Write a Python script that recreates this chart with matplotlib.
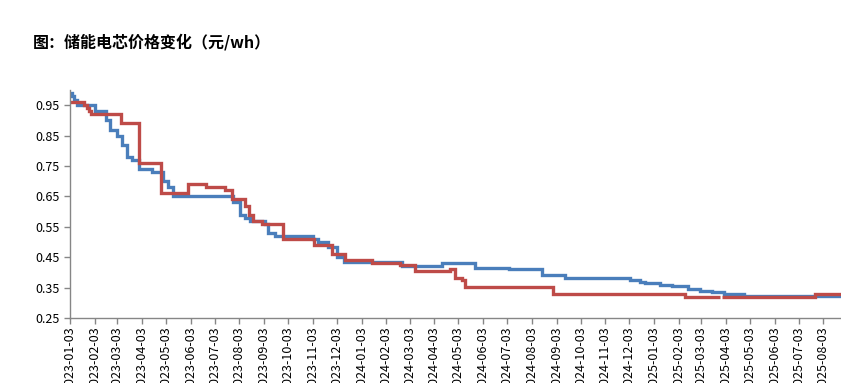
import numpy as np
import pandas as pd
import matplotlib
matplotlib.use("Agg")
import matplotlib.pyplot as plt
import matplotlib.dates as mdates

plt.rcParams['font.family'] = ['Noto Sans CJK SC', 'DejaVu Sans']

title = "图：储能电芯价格变化（元/wh）"

blue_dates = ["2023-01-03", "2023-01-05", "2023-01-08", "2023-01-12", "2023-02-03", "2023-02-17",
              "2023-02-22", "2023-03-03", "2023-03-09", "2023-03-15", "2023-03-22", "2023-03-30",
              "2023-04-16", "2023-04-29", "2023-05-06", "2023-05-12", "2023-07-26", "2023-08-04",
              "2023-08-10", "2023-08-16", "2023-09-04", "2023-09-08", "2023-09-17", "2023-11-03",
              "2023-11-10", "2023-11-22", "2023-12-03", "2023-12-12", "2024-02-22", "2024-04-13",
              "2024-05-24", "2024-07-05", "2024-08-16", "2024-09-13", "2024-12-04", "2024-12-17",
              "2024-12-23", "2025-01-11", "2025-01-26", "2025-02-15", "2025-03-02", "2025-03-17",
              "2025-03-31", "2025-04-25", "2025-08-25"]
blue_values = [0.99, 0.98, 0.968, 0.95, 0.93, 0.90,
               0.87, 0.85, 0.82, 0.78, 0.77, 0.74,
               0.73, 0.70, 0.68, 0.65, 0.63, 0.59,
               0.58, 0.57, 0.56, 0.53, 0.52, 0.51,
               0.50, 0.485, 0.45, 0.433, 0.42, 0.43,
               0.415, 0.41, 0.39, 0.38, 0.376, 0.37,
               0.365, 0.36, 0.355, 0.345, 0.34, 0.335,
               0.33, 0.322, 0.321]

red_dates = ["2023-01-03", "2023-01-20", "2023-01-24", "2023-01-27", "2023-01-29", "2023-03-08",
             "2023-03-30", "2023-04-27", "2023-05-31", "2023-06-22", "2023-07-16", "2023-07-25",
             "2023-08-10", "2023-08-15", "2023-08-20", "2023-08-31", "2023-09-27", "2023-11-05",
             "2023-11-27", "2023-12-13", "2024-01-16", "2024-02-20", "2024-03-10", "2024-04-23",
             "2024-04-29", "2024-05-08", "2024-05-12", "2024-08-29", "2025-02-11", "2025-03-26",
             "2025-03-29", "2025-07-24", "2025-08-25"]
red_values = [0.96, 0.95, 0.94, 0.93, 0.92, 0.89,
              0.76, 0.66, 0.69, 0.68, 0.67, 0.64,
              0.62, 0.59, 0.57, 0.56, 0.51, 0.49,
              0.46, 0.44, 0.43, 0.423, 0.405, 0.41,
              0.38, 0.375, 0.352, 0.33, 0.32, np.nan,
              0.32, 0.33, 0.33]

tick_dates = pd.date_range("2023-01-03", "2025-08-03", freq=pd.DateOffset(months=1))
y_ticks = [0.25, 0.35, 0.45, 0.55, 0.65, 0.75, 0.85, 0.95]

fig = plt.figure(figsize=(8.41, 3.83), dpi=100)
ax = fig.add_axes([70 / 841, 65 / 383, 1 - 70 / 841, (318 - 90) / 383])

ax.step(pd.to_datetime(blue_dates), blue_values, where='post', color='#4A7EBB', lw=2.4,
        solid_joinstyle='miter', solid_capstyle='butt')
ax.step(pd.to_datetime(red_dates), red_values, where='post', color='#BE4B48', lw=2.4,
        solid_joinstyle='miter', solid_capstyle='butt')

ax.set_xlim(pd.Timestamp("2023-01-03"), pd.Timestamp("2025-08-25"))
ax.set_ylim(0.25, 1.0)
ax.set_yticks(y_ticks)
ax.set_yticklabels([f"{v:.2f}" for v in y_ticks])
ax.set_xticks(tick_dates)
ax.xaxis.set_major_formatter(mdates.DateFormatter('%Y-%m-%d'))
for lab in ax.get_xticklabels():
    lab.set_rotation(90)

for s in ['top', 'right']:
    ax.spines[s].set_visible(False)
for s in ['left', 'bottom']:
    ax.spines[s].set_color('#868686')
    ax.spines[s].set_linewidth(1.0)
ax.tick_params(axis='both', colors='#868686', labelcolor='black', labelsize=9, length=4, width=1,
               direction='out')
ax.tick_params(axis='x', pad=2)

fig.text(33 / 841, 1 - 42 / 383, title, fontsize=11.5, fontweight='bold', va='center', ha='left')

fig.savefig("out.png", dpi=100)
